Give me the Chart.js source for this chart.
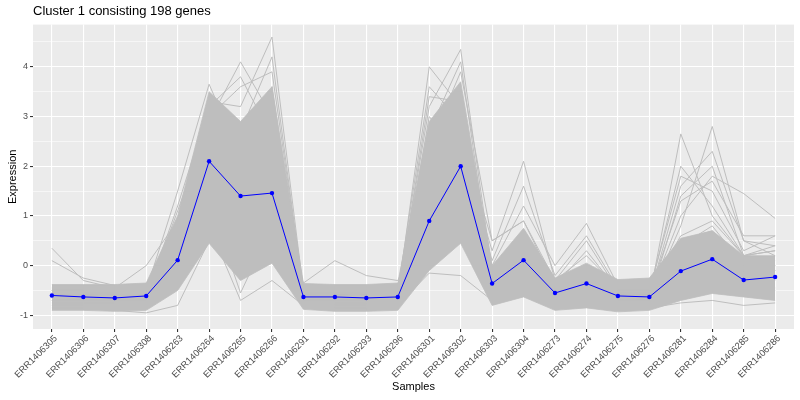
<!DOCTYPE html>
<html>
<head>
<meta charset="utf-8">
<script src="https://cdn.jsdelivr.net/npm/chart.js@4"></script>
<style>
  body { margin: 0; background: #fff; }
  canvas { display: block; }
</style>
</head>
<body>
<canvas id="cluster-chart" width="800" height="400"></canvas>
<script>
const samples = ['ERR1406305', 'ERR1406306', 'ERR1406307', 'ERR1406308', 'ERR1406263', 'ERR1406264',
    'ERR1406265', 'ERR1406266', 'ERR1406291', 'ERR1406292', 'ERR1406293', 'ERR1406296',
    'ERR1406301', 'ERR1406302', 'ERR1406303', 'ERR1406304', 'ERR1406273', 'ERR1406274',
    'ERR1406275', 'ERR1406276', 'ERR1406281', 'ERR1406284', 'ERR1406285', 'ERR1406286'];

const yTicks = [-1, -0.5, 0, 0.5, 1, 1.5, 2, 2.5, 3, 3.5, 4, 4.5];

// cluster mean (blue)
const meanProfile = [-0.60, -0.63, -0.65, -0.61, 0.11, 2.10, 1.40, 1.46, -0.63, -0.63, -0.65, -0.63,
    0.90, 2.00, -0.36, 0.11, -0.55, -0.36, -0.61, -0.63, -0.11, 0.13, -0.29, -0.23];

// where the gene lines are packed solid
const denseHigh = [-0.38, -0.38, -0.38, -0.35, 1.0, 3.5, 2.9, 3.6, -0.36, -0.38, -0.38, -0.35,
    2.9, 3.7, 0.0, 0.75, -0.25, 0.05, -0.28, -0.25, 0.55, 0.7, 0.2, 0.2];
const denseLow = [-0.9, -0.9, -0.92, -0.9, -0.5, 0.45, -0.3, 0.05, -0.88, -0.92, -0.92, -0.9,
    -0.1, 0.45, -0.8, -0.63, -0.9, -0.85, -0.93, -0.9, -0.7, -0.56, -0.63, -0.7];

// single genes sticking out of the band
const gene01 = [-0.45, -0.55, -0.6, -0.55, 0.9, 3.3, 3.2, 4.6, -0.5, -0.55, -0.6, -0.5, 2.6, 3.4, -0.2, 0.4, -0.5, -0.3, -0.6, -0.55, 0.1, 0.4, -0.2, -0.2];
const gene02 = [-0.55, -0.6, -0.65, -0.6, 1.1, 2.9, 4.1, 3.0, -0.55, -0.6, -0.65, -0.6, 1.8, 2.6, -0.4, 0.1, -0.6, -0.4, -0.65, -0.6, -0.2, 0.1, -0.35, -0.3];
const gene03 = [-0.5, -0.55, -0.55, -0.5, 1.5, 3.65, 2.2, 2.8, -0.5, -0.55, -0.55, -0.5, 2.2, 3.0, -0.3, 0.2, -0.45, -0.3, -0.55, -0.55, 0.0, 0.3, -0.2, -0.15];
const gene04 = [-0.6, -0.65, -0.7, -0.6, 0.5, 2.6, 1.8, 2.4, -0.6, -0.65, -0.7, -0.6, 4.0, 3.2, -0.3, 0.6, -0.5, -0.2, -0.6, -0.6, 0.4, 0.6, -0.1, -0.1];
const gene05 = [-0.55, -0.6, -0.6, -0.6, 0.6, 3.0, 2.4, 3.1, -0.55, -0.6, -0.6, -0.55, 3.2, 4.35, -0.1, 0.4, -0.5, -0.25, -0.55, -0.55, 0.2, 0.5, -0.1, -0.1];
const gene06 = [-0.7, -0.7, -0.75, -0.7, 0.2, 1.5, 0.6, 1.0, -0.7, -0.7, -0.75, -0.7, 1.2, 1.6, -0.5, 0.0, -0.6, -0.4, -0.7, -0.65, 2.65, 1.0, 0.2, 0.0];
const gene07 = [-0.7, -0.75, -0.75, -0.7, 0.1, 1.2, 0.8, 0.9, -0.7, -0.75, -0.75, -0.7, 0.9, 1.5, -0.4, 0.1, -0.6, -0.5, -0.7, -0.65, 0.8, 2.8, 0.5, 0.2];
const gene08 = [-0.55, -0.6, -0.65, -0.6, 0.4, 2.4, 1.5, 1.8, -0.55, -0.6, -0.65, -0.6, 1.3, 2.4, 0.3, 2.1, -0.3, 0.5, -0.5, -0.55, 0.3, 0.6, 0.0, 0.0];
const gene09 = [-0.6, -0.65, -0.7, -0.6, 0.3, 2.0, 1.2, 1.4, -0.6, -0.65, -0.7, -0.6, 0.8, 1.9, 0.0, 1.2, 0.0, 0.85, -0.4, -0.5, 0.5, 0.7, 0.1, 0.1];
const gene10 = [0.35, -0.3, -0.45, -0.4, 0.0, 1.8, 1.2, 1.3, -0.55, -0.55, -0.6, -0.55, 0.7, 1.7, -0.3, 0.2, -0.5, -0.3, -0.6, -0.6, -0.1, 0.2, -0.25, -0.2];
const gene11 = [0.1, -0.25, -0.4, -0.4, 0.2, 2.2, 1.4, 1.6, -0.5, -0.6, -0.6, -0.5, 1.0, 2.1, -0.2, 0.3, -0.45, -0.2, -0.55, -0.5, 0.0, 0.3, -0.2, -0.1];
const gene12 = [-0.65, -0.7, -0.7, -0.65, 0.0, 1.5, 1.0, 1.2, -0.65, -0.7, -0.7, -0.65, 0.6, 1.6, -0.3, 0.3, -0.6, -0.4, -0.65, -0.6, 1.0, 1.8, 1.45, 0.95];
const gene13 = [-0.8, -0.8, -0.85, -0.8, -0.3, 0.8, -0.7, -0.3, -0.8, -0.85, -0.85, -0.8, -0.15, -0.2, -0.7, -0.5, -0.85, -0.8, -0.9, -0.85, -0.75, -0.7, -0.8, -0.75];
const gene14 = [-0.85, -0.85, -0.9, -0.95, -0.8, 0.5, 0.3, 0.4, -0.85, -0.9, -0.9, -0.85, 0.2, 1.0, -0.6, -0.3, -0.75, -0.6, -0.85, -0.8, -0.4, -0.2, -0.55, -0.5];
const gene15 = [-0.6, -0.65, -0.65, -0.6, 0.3, 1.8, 1.0, 1.5, -0.35, 0.1, -0.2, -0.3, 0.9, 1.8, -0.3, 0.0, -0.5, -0.3, -0.6, -0.6, -0.2, 0.1, -0.3, -0.25];
const gene16 = [-0.5, -0.5, -0.45, 0.0, 0.9, 2.2, 1.6, 1.8, -0.55, -0.6, -0.6, -0.55, 1.4, 2.2, -0.25, 0.3, -0.5, -0.3, -0.55, -0.55, 0.0, 0.4, -0.2, -0.2];
const gene17 = [-0.6, -0.6, -0.65, -0.6, 0.6, 1.3, -0.55, 0.8, -0.6, -0.65, -0.65, -0.6, 0.4, 1.2, -0.5, -0.2, -0.7, -0.55, -0.7, -0.7, -0.4, -0.2, -0.5, -0.45];
const gene18 = [-0.65, -0.7, -0.7, -0.65, 0.4, 2.8, 1.9, 0.1, -0.6, -0.7, -0.7, -0.65, 2.4, 3.9, 0.5, 0.9, -0.4, 0.3, -0.5, -0.5, 1.8, 1.5, 0.3, 0.6];
const gene19 = [-0.7, -0.7, -0.7, -0.7, -0.2, 1.0, 2.6, 2.0, -0.7, -0.7, -0.75, -0.7, 3.0, 2.2, -0.4, -0.1, -0.7, -0.6, -0.75, -0.7, -0.5, -0.1, -0.4, -0.3];
const gene20 = [-0.75, -0.75, -0.8, -0.75, 0.2, 3.2, 0.7, 3.6, -0.75, -0.8, -0.8, -0.75, 2.0, 3.0, -0.45, 0.7, -0.6, -0.4, -0.7, -0.7, 1.4, 2.0, 0.2, 0.4];
const gene21 = [-0.6, -0.65, -0.65, -0.6, 0.3, 2.0, 1.3, 1.5, -0.6, -0.65, -0.65, -0.6, 1.0, 2.0, -0.3, 0.5, -0.5, -0.2, -0.55, -0.55, 2.0, 1.2, 0.2, 0.3];
const gene22 = [-0.65, -0.7, -0.7, -0.65, 0.2, 1.9, 1.1, 1.3, -0.65, -0.7, -0.7, -0.65, 0.8, 1.8, -0.35, 0.3, -0.55, -0.35, -0.6, -0.6, 1.6, 2.3, 0.5, 0.4];
const gene23 = [-0.55, -0.6, -0.6, -0.55, 0.5, 2.3, 1.5, 1.7, -0.55, -0.6, -0.6, -0.55, 1.2, 2.3, 0.1, 1.6, -0.2, 0.6, -0.45, -0.5, 0.4, 0.8, 0.0, 0.0];
const gene24 = [-0.6, -0.6, -0.65, -0.6, 0.4, 2.1, 1.3, 1.6, -0.6, -0.6, -0.65, -0.6, 1.1, 2.2, -0.2, 0.5, -0.45, -0.2, -0.55, -0.55, 1.3, 1.7, 0.6, 0.6];
const gene25 = [-0.5, -0.55, -0.55, -0.5, 0.6, 2.5, 1.8, 2.0, -0.5, -0.55, -0.55, -0.5, 1.6, 2.6, 0.5, 0.9, -0.3, 0.2, -0.45, -0.5, 0.6, 0.9, 0.2, 0.3];
const gene26 = [-0.5, -0.55, -0.55, -0.5, 0.7, 3.0, 3.6, 3.9, -0.5, -0.55, -0.55, -0.5, 3.6, 2.9, -0.2, 0.5, -0.45, -0.2, -0.55, -0.5, 0.1, 0.5, -0.15, -0.1];
const gene27 = [-0.55, -0.6, -0.6, -0.55, 0.8, 3.1, 2.7, 4.2, -0.55, -0.6, -0.6, -0.55, 2.7, 4.1, -0.25, 0.3, -0.5, -0.3, -0.6, -0.55, 0.0, 0.3, -0.25, -0.2];
const gene28 = [-0.6, -0.6, -0.65, -0.6, 1.2, 3.2, 3.8, 2.6, -0.6, -0.6, -0.65, -0.6, 3.4, 3.3, -0.3, 0.2, -0.55, -0.3, -0.6, -0.6, -0.1, 0.2, -0.3, -0.25];

const geneLines = [gene01, gene02, gene03, gene04, gene05, gene06, gene07, gene08, gene09, gene10,
    gene11, gene12, gene13, gene14, gene15, gene16, gene17, gene18, gene19, gene20,
    gene21, gene22, gene23, gene24, gene25, gene26, gene27, gene28];

const toPoints = values => values.map((v, i) => ({ x: i + 1, y: v }));

// chart.js paints low `order` on top, so band < genes < mean
const datasets = [
    {
        data: toPoints(denseHigh),
        borderColor: '#BEBEBE',
        borderWidth: 0.8,
        backgroundColor: '#BEBEBE',
        fill: '+1',
        pointRadius: 0,
        order: 3
    },
    {
        data: toPoints(denseLow),
        borderColor: '#BEBEBE',
        borderWidth: 0.8,
        fill: false,
        pointRadius: 0,
        order: 3
    }
];

geneLines.forEach(g => {
    datasets.push({
        data: toPoints(g),
        borderColor: '#BEBEBE',
        borderWidth: 1,
        fill: false,
        pointRadius: 0,
        order: 2
    });
});

datasets.push({
    data: toPoints(meanProfile),
    borderColor: '#0000FF',
    backgroundColor: '#0000FF',
    borderWidth: 1,
    pointRadius: 2.2,
    pointBorderWidth: 0,
    fill: false,
    order: 1
});

const panelBackground = {
    id: 'panelBackground',
    beforeDraw(chart) {
        const { ctx, chartArea } = chart;
        ctx.save();
        ctx.fillStyle = '#EBEBEB';
        ctx.fillRect(chartArea.left, chartArea.top, chartArea.right - chartArea.left, chartArea.bottom - chartArea.top);
        ctx.restore();
    }
};

const ctx = document.getElementById('cluster-chart').getContext('2d');
new Chart(ctx, {
    type: 'line',
    data: { datasets },
    plugins: [panelBackground],
    options: {
        responsive: false,
        animation: false,
        layout: { padding: { left: 0, right: 6, top: 0, bottom: 4 } },
        plugins: {
            legend: { display: false },
            tooltip: { enabled: false },
            title: {
                display: true,
                text: 'Cluster 1 consisting 198 genes',
                align: 'start',
                fullSize: false,
                color: '#000',
                font: { family: 'Liberation Sans, Arial, sans-serif', size: 13, weight: 'normal' },
                padding: { top: 4, bottom: 5 }
            }
        },
        scales: {
            x: {
                type: 'linear',
                min: 0.4,
                max: 24.6,
                afterBuildTicks: scale => {
                    scale.ticks = samples.map((s, i) => ({ value: i + 1 }));
                },
                afterFit: scale => { scale.height = 67; },
                ticks: {
                    autoSkip: false,
                    minRotation: 45,
                    maxRotation: 45,
                    padding: 1,
                    labelOffset: 4,
                    color: '#4D4D4D',
                    font: { family: 'Liberation Sans, Arial, sans-serif', size: 9.3 },
                    callback: v => samples[v - 1]
                },
                grid: { color: '#FFFFFF', lineWidth: 1.1, tickColor: '#333333', tickLength: 3 },
                border: { display: false },
                title: {
                    display: true,
                    text: 'Samples',
                    color: '#000',
                    font: { family: 'Liberation Sans, Arial, sans-serif', size: 11 },
                    padding: { top: 0, bottom: 2 }
                }
            },
            y: {
                min: -1.275,
                max: 4.85,
                afterBuildTicks: scale => {
                    scale.ticks = yTicks.map(v => ({ value: v }));
                },
                afterFit: scale => { scale.width = 33; },
                ticks: {
                    padding: 2,
                    color: '#4D4D4D',
                    font: { family: 'Liberation Sans, Arial, sans-serif', size: 9 },
                    callback: v => Number.isInteger(v) ? v : ''
                },
                grid: {
                    color: '#FFFFFF',
                    lineWidth: c => Number.isInteger(c.tick.value) ? 1.1 : 0.55,
                    tickColor: c => Number.isInteger(c.tick.value) ? '#333333' : 'rgba(0,0,0,0)',
                    tickLength: 3
                },
                border: { display: false },
                title: {
                    display: true,
                    text: 'Expression',
                    color: '#000',
                    font: { family: 'Liberation Sans, Arial, sans-serif', size: 11 },
                    padding: { top: 6, bottom: 0 }
                }
            }
        }
    }
});
</script>
</body>
</html>
